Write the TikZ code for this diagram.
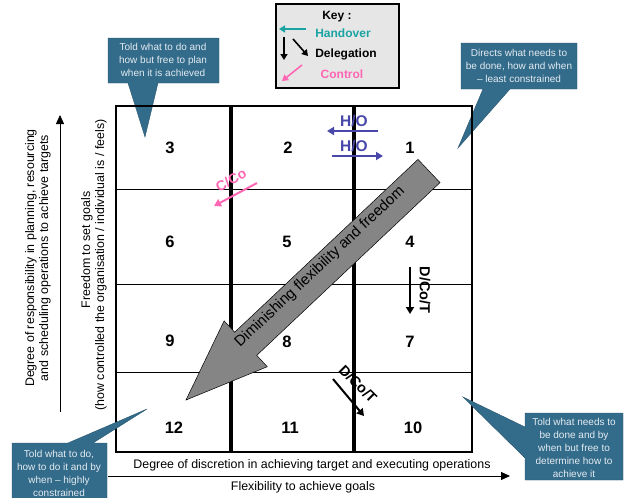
\documentclass[tikz,border=0pt]{standalone}
\usepackage{fontspec}
\setmainfont{Liberation Sans}
\usetikzlibrary{arrows.meta}
\definecolor{callc}{HTML}{336B8A}
\definecolor{calltext}{HTML}{E4ECF2}
\definecolor{keygray}{HTML}{E6E6E6}
\definecolor{tealc}{HTML}{1AA3A3}
\definecolor{pinkc}{HTML}{FF66B3}
\definecolor{hoblue}{HTML}{4848AA}
\definecolor{bigarrow}{HTML}{858585}
\begin{document}
\begin{tikzpicture}[x=1pt,y=-1pt,
  num/.style={font=\fontsize{16.5}{16.5}\selectfont\bfseries, inner sep=0pt},
  calltxt/.style={font=\fontsize{10}{13}\selectfont, text=calltext, align=center, inner sep=0pt},
  callout/.style={fill=callc, draw=callc!80!black, line width=0.4pt},
  axtxt/.style={font=\fontsize{12.4}{14}\selectfont, inner sep=0pt},
  keytxt/.style={font=\fontsize{12}{13}\selectfont\bfseries, inner sep=0pt},
  arr/.style={line width=2pt, -{Triangle[length=7pt,width=8pt]}},
  marktxt/.style={font=\fontsize{15.5}{16}\selectfont\bfseries, inner sep=0pt}]
\useasboundingbox (0,0) rectangle (624,498);

% callouts
\draw[callout] (108,38) -- (219,38) -- (219,83) -- (158,83) -- (145,137) -- (128,83) -- (108,83) -- cycle;
\node[calltxt] (ctl) at (163,60) {Told what to do and\\how but free to plan\\when it is achieved};
\draw[callout] (461,43) -- (577,43) -- (577,89) -- (510,89) -- (458,148) -- (483,89) -- (461,89) -- cycle;
\node[calltxt] (ctr) at (519,66) {Directs what needs to\\be done, how and when\\– least constrained};

% grid
\draw[line width=0.9pt] (116,189) -- (472,189);
\draw[line width=0.9pt] (116,284) -- (472,284);
\draw[line width=0.9pt] (116,372) -- (472,372);
\draw[line width=3.5pt] (231,106) -- (231,452);
\draw[line width=3.5pt] (354,106) -- (354,452);
\draw[line width=1.8pt] (116,106) rectangle (472,452);

% numbers
\node[num] (n3) at (170,148) {3};
\node[num] (n2) at (288,148) {2};
\node[num] (n1) at (410,148) {1};
\node[num] (n6) at (170,242) {6};
\node[num] (n5) at (287,242) {5};
\node[num] (n4) at (410,242) {4};
\node[num] (n9) at (170,341) {9};
\node[num] (n8) at (287,342) {8};
\node[num] (n7) at (410,342) {7};
\node[num] (n12) at (174,428) {12};
\node[num] (n11) at (290,428) {11};
\node[num] (n10) at (413,428) {10};

% big arrow
\draw[fill=bigarrow, draw=black, line width=0.5pt]
  (418,159.4) -- (440,182.6) -- (256.7,355.4) -- (267.3,366.7) -- (186,400)
  -- (224.1,320.9) -- (234.7,332.2) -- cycle;
\node[font=\fontsize{15}{16}\selectfont, rotate=43.3, inner sep=0pt] (dimtxt) at (320,267) {Diminishing flexibility and freedom};

% H/O
\node[marktxt, text=hoblue] (ho1) at (354,121) {H/O};
\coordinate (ho1a) at (378,131); \coordinate (ho1b) at (327,131);
\draw[arr, hoblue] (ho1a) -- (ho1b);
\node[marktxt, text=hoblue] (ho2) at (354,146) {H/O};
\coordinate (ho2a) at (332,156); \coordinate (ho2b) at (383,156);
\draw[arr, hoblue] (ho2a) -- (ho2b);

% C/Co
\node[font=\fontsize{14}{14}\selectfont\bfseries, text=pinkc, rotate=29, inner sep=0pt] (cco) at (231,180) {C/Co};
\coordinate (ccoa) at (257,183); \coordinate (ccob) at (214,206);
\draw[arr, pinkc] (ccoa) -- (ccob);

% D/Co/T vertical
\node[font=\fontsize{14.5}{14}\selectfont\bfseries, rotate=-90, inner sep=0pt] (dct1) at (425,290) {D/Co/T};
\coordinate (dct1a) at (410,267); \coordinate (dct1b) at (410,314);
\draw[arr, black] (dct1a) -- (dct1b);

% D/Co/T diagonal
\node[font=\fontsize{14.5}{14}\selectfont\bfseries, rotate=-45, inner sep=0pt] (dct2) at (358,384) {D/Co/T};
\coordinate (dct2a) at (333,379); \coordinate (dct2b) at (364,416);
\draw[arr, black] (dct2a) -- (dct2b);

% key
\draw[fill=keygray, line width=1.2pt] (276,4) rectangle (399,88);
\node[keytxt] (keyt) at (337,17) {Key :};
\node[keytxt, text=tealc] (khand) at (343,33) {Handover};
\coordinate (kha) at (306,29); \coordinate (khb) at (279,29);
\draw[line width=1.6pt, tealc, -{Triangle[length=6pt,width=7pt]}] (kha) -- (khb);
\node[keytxt] (kdel) at (346,54) {Delegation};
\coordinate (kda) at (284,37); \coordinate (kdb) at (284,60);
\draw[line width=1.6pt, -{Triangle[length=6pt,width=7pt]}] (kda) -- (kdb);
\coordinate (kdc) at (293,39); \coordinate (kdd) at (308,56);
\draw[line width=1.6pt, -{Triangle[length=6pt,width=7pt]}] (kdc) -- (kdd);
\node[keytxt, text=pinkc] (kcon) at (342,74) {Control};
\coordinate (kca) at (302,65); \coordinate (kcb) at (282,81);
\draw[line width=1.6pt, pinkc, -{Triangle[length=6pt,width=7pt]}] (kca) -- (kcb);

% left axis
\coordinate (ya) at (60,412); \coordinate (yb) at (60,115);
\draw[line width=0.8pt, -{Triangle[length=9pt,width=8pt]}] (ya) -- (yb);
\node[axtxt, rotate=90] (yl1) at (31,258) {Degree of responsibility in planning, resourcing};
\node[axtxt, rotate=90] (yl2) at (45,258) {and scheduling operations to achieve targets};
\node[axtxt, rotate=90] (yl3) at (87,250) {Freedom to set goals};
\node[axtxt, rotate=90] (yl4) at (101,265) {(how controlled the organisation / individual is / feels)};

% bottom axis
\coordinate (xa) at (108,476); \coordinate (xb) at (510,476);
\draw[line width=0.8pt, -{Triangle[length=9pt,width=8pt]}] (xa) -- (xb);
\node[axtxt] (xl1) at (312,465) {Degree of discretion in achieving target and executing operations};
\node[axtxt] (xl2) at (303,487) {Flexibility to achieve goals};

% bottom callouts
\draw[callout] (12,443) -- (68,443) -- (147,409) -- (93,443) -- (107,443) -- (107,499) -- (12,499) -- cycle;
\node[calltxt] (cbl) at (59,473) {Told what to do,\\how to do it and by\\when – highly\\constrained};
\draw[callout] (525,413) -- (623,413) -- (623,480) -- (525,480) -- (525,458) -- (463,397) -- (525,427) -- cycle;
\node[calltxt] (cbr) at (574,448) {Told what needs to\\be done and by\\when but free to\\determine how to\\achieve it};
\end{tikzpicture}
\end{document}
